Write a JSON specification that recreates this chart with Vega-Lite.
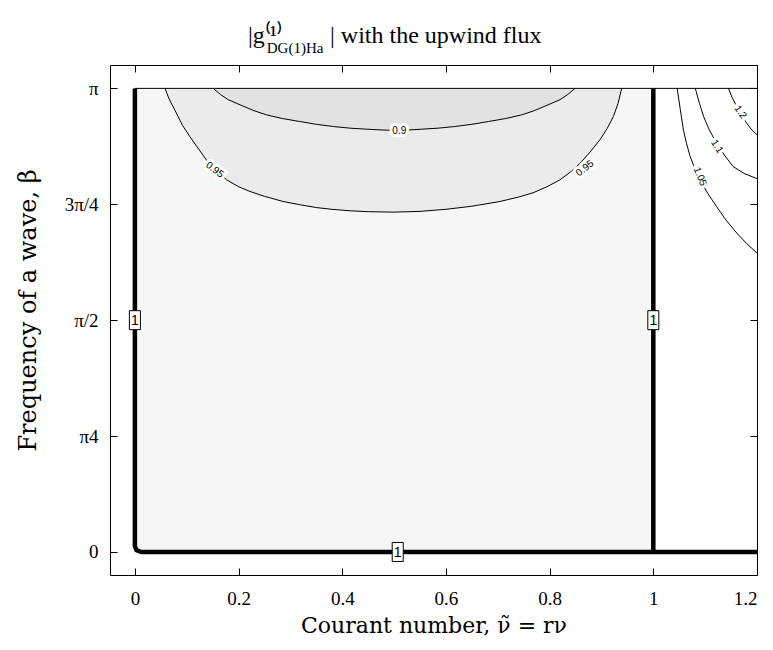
{
  "$schema": "https://vega.github.io/schema/vega-lite/v6.json",
  "width": 647,
  "height": 510,
  "autosize": {"type": "none"},
  "padding": {"left": 110, "top": 65, "right": 16, "bottom": 75},
  "background": "white",
  "config": {
    "view": {"stroke": null},
    "axis": {
      "grid": false,
      "domainColor": "black",
      "tickColor": "black",
      "labelColor": "black",
      "titleColor": "black",
      "labelFont": "Liberation Serif",
      "titleFont": "DejaVu Serif",
      "labelFontSize": 19,
      "titleFontSize": 22,
      "titleFontWeight": "normal",
      "tickSize": -7,
      "tickWidth": 1,
      "domainWidth": 1
    }
  },
  "title": {
    "text": "|g⁽¹⁾\u00a0\u00a0\u00a0\u00a0\u00a0\u00a0\u00a0\u00a0| with the upwind flux",
    "subtitle": "\u200b\u00a0\u00a0\u00a0\u00a0\u00a0DG(1)Ha",
    "font": "Liberation Serif",
    "fontSize": 24,
    "fontWeight": "normal",
    "color": "black",
    "subtitleFont": "Liberation Serif",
    "subtitleFontSize": 15,
    "subtitleFontWeight": "normal",
    "subtitleColor": "black",
    "subtitlePadding": -7,
    "anchor": "start",
    "frame": "group",
    "offset": 9,
    "dx": 138
  },
  "datasets": {
    "region": [{"x": 0, "x2": 1, "b": 0, "b2": 3.1416}],
    "contours": [
      {"lev": "0.9", "o": 1, "x": 0.151, "b": 3.1416},
      {"lev": "0.9", "o": 2, "x": 0.165, "b": 3.1},
      {"lev": "0.9", "o": 3, "x": 0.18, "b": 3.065},
      {"lev": "0.9", "o": 4, "x": 0.203, "b": 3.03},
      {"lev": "0.9", "o": 5, "x": 0.23, "b": 2.99},
      {"lev": "0.9", "o": 6, "x": 0.254, "b": 2.962},
      {"lev": "0.9", "o": 7, "x": 0.285, "b": 2.937},
      {"lev": "0.9", "o": 8, "x": 0.318, "b": 2.917},
      {"lev": "0.9", "o": 9, "x": 0.35, "b": 2.898},
      {"lev": "0.9", "o": 10, "x": 0.383, "b": 2.883},
      {"lev": "0.9", "o": 11, "x": 0.415, "b": 2.872},
      {"lev": "0.9", "o": 12, "x": 0.447, "b": 2.865},
      {"lev": "0.9", "o": 13, "x": 0.48, "b": 2.859},
      {"lev": "0.9", "o": 14, "x": 0.5, "b": 2.857},
      {"lev": "0.9", "o": 15, "x": 0.52, "b": 2.858},
      {"lev": "0.9", "o": 16, "x": 0.553, "b": 2.865},
      {"lev": "0.9", "o": 17, "x": 0.585, "b": 2.872},
      {"lev": "0.9", "o": 18, "x": 0.617, "b": 2.883},
      {"lev": "0.9", "o": 19, "x": 0.65, "b": 2.898},
      {"lev": "0.9", "o": 20, "x": 0.682, "b": 2.917},
      {"lev": "0.9", "o": 21, "x": 0.715, "b": 2.937},
      {"lev": "0.9", "o": 22, "x": 0.746, "b": 2.962},
      {"lev": "0.9", "o": 23, "x": 0.77, "b": 2.99},
      {"lev": "0.9", "o": 24, "x": 0.797, "b": 3.03},
      {"lev": "0.9", "o": 25, "x": 0.82, "b": 3.065},
      {"lev": "0.9", "o": 26, "x": 0.835, "b": 3.1},
      {"lev": "0.9", "o": 27, "x": 0.849, "b": 3.1416},

      {"lev": "0.95", "o": 1, "x": 0.058, "b": 3.1416},
      {"lev": "0.95", "o": 2, "x": 0.066, "b": 3.07},
      {"lev": "0.95", "o": 3, "x": 0.08, "b": 2.974},
      {"lev": "0.95", "o": 4, "x": 0.092, "b": 2.89},
      {"lev": "0.95", "o": 5, "x": 0.106, "b": 2.815},
      {"lev": "0.95", "o": 6, "x": 0.12, "b": 2.745},
      {"lev": "0.95", "o": 7, "x": 0.138, "b": 2.657},
      {"lev": "0.95", "o": 8, "x": 0.157, "b": 2.585},
      {"lev": "0.95", "o": 9, "x": 0.177, "b": 2.522},
      {"lev": "0.95", "o": 10, "x": 0.2, "b": 2.475},
      {"lev": "0.95", "o": 11, "x": 0.222, "b": 2.443},
      {"lev": "0.95", "o": 12, "x": 0.25, "b": 2.41},
      {"lev": "0.95", "o": 13, "x": 0.286, "b": 2.375},
      {"lev": "0.95", "o": 14, "x": 0.32, "b": 2.352},
      {"lev": "0.95", "o": 15, "x": 0.35, "b": 2.334},
      {"lev": "0.95", "o": 16, "x": 0.38, "b": 2.322},
      {"lev": "0.95", "o": 17, "x": 0.415, "b": 2.312},
      {"lev": "0.95", "o": 18, "x": 0.45, "b": 2.306},
      {"lev": "0.95", "o": 19, "x": 0.5, "b": 2.303},
      {"lev": "0.95", "o": 20, "x": 0.55, "b": 2.308},
      {"lev": "0.95", "o": 21, "x": 0.6, "b": 2.322},
      {"lev": "0.95", "o": 22, "x": 0.65, "b": 2.343},
      {"lev": "0.95", "o": 23, "x": 0.704, "b": 2.375},
      {"lev": "0.95", "o": 24, "x": 0.74, "b": 2.405},
      {"lev": "0.95", "o": 25, "x": 0.768, "b": 2.434},
      {"lev": "0.95", "o": 26, "x": 0.795, "b": 2.475},
      {"lev": "0.95", "o": 27, "x": 0.82, "b": 2.522},
      {"lev": "0.95", "o": 28, "x": 0.842, "b": 2.58},
      {"lev": "0.95", "o": 29, "x": 0.859, "b": 2.635},
      {"lev": "0.95", "o": 30, "x": 0.878, "b": 2.71},
      {"lev": "0.95", "o": 31, "x": 0.897, "b": 2.793},
      {"lev": "0.95", "o": 32, "x": 0.911, "b": 2.87},
      {"lev": "0.95", "o": 33, "x": 0.923, "b": 2.951},
      {"lev": "0.95", "o": 34, "x": 0.932, "b": 3.04},
      {"lev": "0.95", "o": 35, "x": 0.939, "b": 3.1416},

      {"lev": "1.05", "o": 1, "x": 1.046, "b": 3.1416},
      {"lev": "1.05", "o": 2, "x": 1.052, "b": 3.0},
      {"lev": "1.05", "o": 3, "x": 1.058, "b": 2.861},
      {"lev": "1.05", "o": 4, "x": 1.064, "b": 2.77},
      {"lev": "1.05", "o": 5, "x": 1.071, "b": 2.68},
      {"lev": "1.05", "o": 6, "x": 1.08, "b": 2.6},
      {"lev": "1.05", "o": 7, "x": 1.09, "b": 2.522},
      {"lev": "1.05", "o": 8, "x": 1.105, "b": 2.43},
      {"lev": "1.05", "o": 9, "x": 1.122, "b": 2.341},
      {"lev": "1.05", "o": 10, "x": 1.14, "b": 2.25},
      {"lev": "1.05", "o": 11, "x": 1.161, "b": 2.161},
      {"lev": "1.05", "o": 12, "x": 1.18, "b": 2.09},
      {"lev": "1.05", "o": 13, "x": 1.2, "b": 2.026},

      {"lev": "1.1", "o": 1, "x": 1.081, "b": 3.1416},
      {"lev": "1.1", "o": 2, "x": 1.089, "b": 3.04},
      {"lev": "1.1", "o": 3, "x": 1.097, "b": 2.951},
      {"lev": "1.1", "o": 4, "x": 1.108, "b": 2.86},
      {"lev": "1.1", "o": 5, "x": 1.122, "b": 2.77},
      {"lev": "1.1", "o": 6, "x": 1.137, "b": 2.69},
      {"lev": "1.1", "o": 7, "x": 1.154, "b": 2.612},
      {"lev": "1.1", "o": 8, "x": 1.175, "b": 2.565},
      {"lev": "1.1", "o": 9, "x": 1.2, "b": 2.53},

      {"lev": "1.2", "o": 1, "x": 1.145, "b": 3.1416},
      {"lev": "1.2", "o": 2, "x": 1.152, "b": 3.08},
      {"lev": "1.2", "o": 3, "x": 1.161, "b": 3.018},
      {"lev": "1.2", "o": 4, "x": 1.17, "b": 2.96},
      {"lev": "1.2", "o": 5, "x": 1.18, "b": 2.906},
      {"lev": "1.2", "o": 6, "x": 1.19, "b": 2.86},
      {"lev": "1.2", "o": 7, "x": 1.2, "b": 2.827}
    ],
    "unit": [
      {"seg": "left", "o": 1, "x": 0, "b": 3.1416},
      {"seg": "left", "o": 2, "x": 0, "b": 0.04},
      {"seg": "left", "o": 3, "x": 0.003, "b": 0.012},
      {"seg": "left", "o": 4, "x": 0.012, "b": 0},
      {"seg": "left", "o": 5, "x": 1.2, "b": 0},
      {"seg": "right", "o": 1, "x": 1, "b": 3.1416},
      {"seg": "right", "o": 2, "x": 1, "b": 0.02},
      {"seg": "right", "o": 3, "x": 1.001, "b": 0}
    ],
    "labels": [
      {"id": 1, "t": "0.9", "x": 0.51, "b": 2.856},
      {"id": 2, "t": "0.95", "x": 0.154, "b": 2.59},
      {"id": 3, "t": "0.95", "x": 0.868, "b": 2.6},
      {"id": 4, "t": "1.05", "x": 1.09, "b": 2.544},
      {"id": 5, "t": "1.1", "x": 1.123, "b": 2.748},
      {"id": 6, "t": "1.2", "x": 1.168, "b": 2.98}
    ],
    "ones": [
      {"t": "1", "x": 0, "b": 1.5708},
      {"t": "1", "x": 1, "b": 1.5708},
      {"t": "1", "x": 0.507, "b": 0}
    ],
    "topline": [
      {"x": 0, "b": 3.1416},
      {"x": 1.2, "b": 3.1416}
    ]
  },
  "layer": [
    {
      "encoding": {
        "x": {
          "field": "x",
          "type": "quantitative",
          "scale": {"domain": [-0.048, 1.2], "nice": false, "zero": false},
          "axis": {
            "orient": "bottom",
            "values": [0, 0.2, 0.4, 0.6, 0.8, 1, 1.2],
            "format": "~g",
            "labelPadding": 21,
            "title": "Courant number, ν̃ = rν",
            "titlePadding": 7
          }
        },
        "y": {
          "field": "b",
          "type": "quantitative",
          "scale": {"domain": [-0.156, 3.3], "nice": false, "zero": false},
          "axis": {
            "orient": "left",
            "values": [0, 0.7854, 1.5708, 2.3562, 3.1416],
            "labelExpr": "datum.value < 0.1 ? '0' : datum.value < 1 ? 'π4' : datum.value < 2 ? 'π/2' : datum.value < 3 ? '3π/4' : 'π'",
            "labelPadding": 19,
            "title": "Frequency of a wave, β",
            "titleFontSize": 24,
            "titlePadding": 24,
            "titleY": 245
          }
        }
      },
      "layer": [
        {
          "data": {"name": "region"},
          "mark": {"type": "rect", "color": "#f6f6f6"},
          "encoding": {"x2": {"field": "x2"}, "y2": {"field": "b2"}}
        },
        {
          "data": {"name": "contours"},
          "transform": [{"filter": "datum.lev == '0.95'"}],
          "mark": {"type": "area", "color": "#ebebeb"},
          "encoding": {"y2": {"datum": 3.1416}}
        },
        {
          "data": {"name": "contours"},
          "transform": [{"filter": "datum.lev == '0.9'"}],
          "mark": {"type": "area", "color": "#e2e2e2"},
          "encoding": {"y2": {"datum": 3.1416}}
        },
        {
          "data": {"name": "contours"},
          "mark": {"type": "line", "color": "black", "strokeWidth": 1},
          "encoding": {
            "detail": {"field": "lev"},
            "order": {"field": "o", "type": "quantitative"}
          }
        },
        {
          "data": {"name": "unit"},
          "mark": {"type": "line", "color": "black", "strokeWidth": 4.5, "strokeJoin": "round"},
          "encoding": {
            "detail": {"field": "seg"},
            "order": {"field": "o", "type": "quantitative"}
          }
        },
        {
          "data": {"name": "labels"},
          "transform": [{"filter": "datum.id == 1"}],
          "encoding": {"text": {"field": "t"}},
          "layer": [
            {"mark": {"type": "text", "font": "Liberation Sans", "fontSize": 10, "fill": "white", "stroke": "white", "strokeWidth": 6, "angle": 0}},
            {"mark": {"type": "text", "font": "Liberation Sans", "fontSize": 10, "fill": "black", "angle": 0}}
          ]
        },
        {
          "data": {"name": "labels"},
          "transform": [{"filter": "datum.id == 2"}],
          "encoding": {"text": {"field": "t"}},
          "layer": [
            {"mark": {"type": "text", "font": "Liberation Sans", "fontSize": 10, "fill": "white", "stroke": "white", "strokeWidth": 6, "angle": 38}},
            {"mark": {"type": "text", "font": "Liberation Sans", "fontSize": 10, "fill": "black", "angle": 38}}
          ]
        },
        {
          "data": {"name": "labels"},
          "transform": [{"filter": "datum.id == 3"}],
          "encoding": {"text": {"field": "t"}},
          "layer": [
            {"mark": {"type": "text", "font": "Liberation Sans", "fontSize": 10, "fill": "white", "stroke": "white", "strokeWidth": 6, "angle": -38}},
            {"mark": {"type": "text", "font": "Liberation Sans", "fontSize": 10, "fill": "black", "angle": -38}}
          ]
        },
        {
          "data": {"name": "labels"},
          "transform": [{"filter": "datum.id == 4"}],
          "encoding": {"text": {"field": "t"}},
          "layer": [
            {"mark": {"type": "text", "font": "Liberation Sans", "fontSize": 10, "fill": "white", "stroke": "white", "strokeWidth": 6, "angle": 67}},
            {"mark": {"type": "text", "font": "Liberation Sans", "fontSize": 10, "fill": "black", "angle": 67}}
          ]
        },
        {
          "data": {"name": "labels"},
          "transform": [{"filter": "datum.id == 5"}],
          "encoding": {"text": {"field": "t"}},
          "layer": [
            {"mark": {"type": "text", "font": "Liberation Sans", "fontSize": 10, "fill": "white", "stroke": "white", "strokeWidth": 6, "angle": 58}},
            {"mark": {"type": "text", "font": "Liberation Sans", "fontSize": 10, "fill": "black", "angle": 58}}
          ]
        },
        {
          "data": {"name": "labels"},
          "transform": [{"filter": "datum.id == 6"}],
          "encoding": {"text": {"field": "t"}},
          "layer": [
            {"mark": {"type": "text", "font": "Liberation Sans", "fontSize": 10, "fill": "white", "stroke": "white", "strokeWidth": 6, "angle": 54}},
            {"mark": {"type": "text", "font": "Liberation Sans", "fontSize": 10, "fill": "black", "angle": 54}}
          ]
        },
        {
          "data": {"name": "ones"},
          "layer": [
            {
              "mark": {
                "type": "point",
                "shape": "M-0.58,-1H0.58V1H-0.58Z",
                "size": 361,
                "filled": true,
                "fill": "white",
                "stroke": "black",
                "strokeWidth": 1,
                "opacity": 1
              }
            },
            {
              "mark": {"type": "text", "font": "Liberation Sans", "fontSize": 14, "color": "black", "dy": 1},
              "encoding": {"text": {"field": "t"}}
            }
          ]
        }
      ]
    },
    {
      "data": {"name": "topline"},
      "mark": {"type": "line", "color": "black", "strokeWidth": 1},
      "encoding": {
        "x": {
          "field": "x",
          "type": "quantitative",
          "scale": {"domain": [-0.048, 1.2], "nice": false, "zero": false},
          "axis": {"orient": "top", "values": [0, 0.2, 0.4, 0.6, 0.8, 1, 1.2], "labels": false, "title": null}
        },
        "y": {
          "field": "b",
          "type": "quantitative",
          "scale": {"domain": [-0.156, 3.3], "nice": false, "zero": false},
          "axis": {"orient": "right", "values": [0, 0.7854, 1.5708, 2.3562, 3.1416], "labels": false, "title": null}
        }
      }
    }
  ],
  "resolve": {"axis": {"x": "independent", "y": "independent"}}
}
